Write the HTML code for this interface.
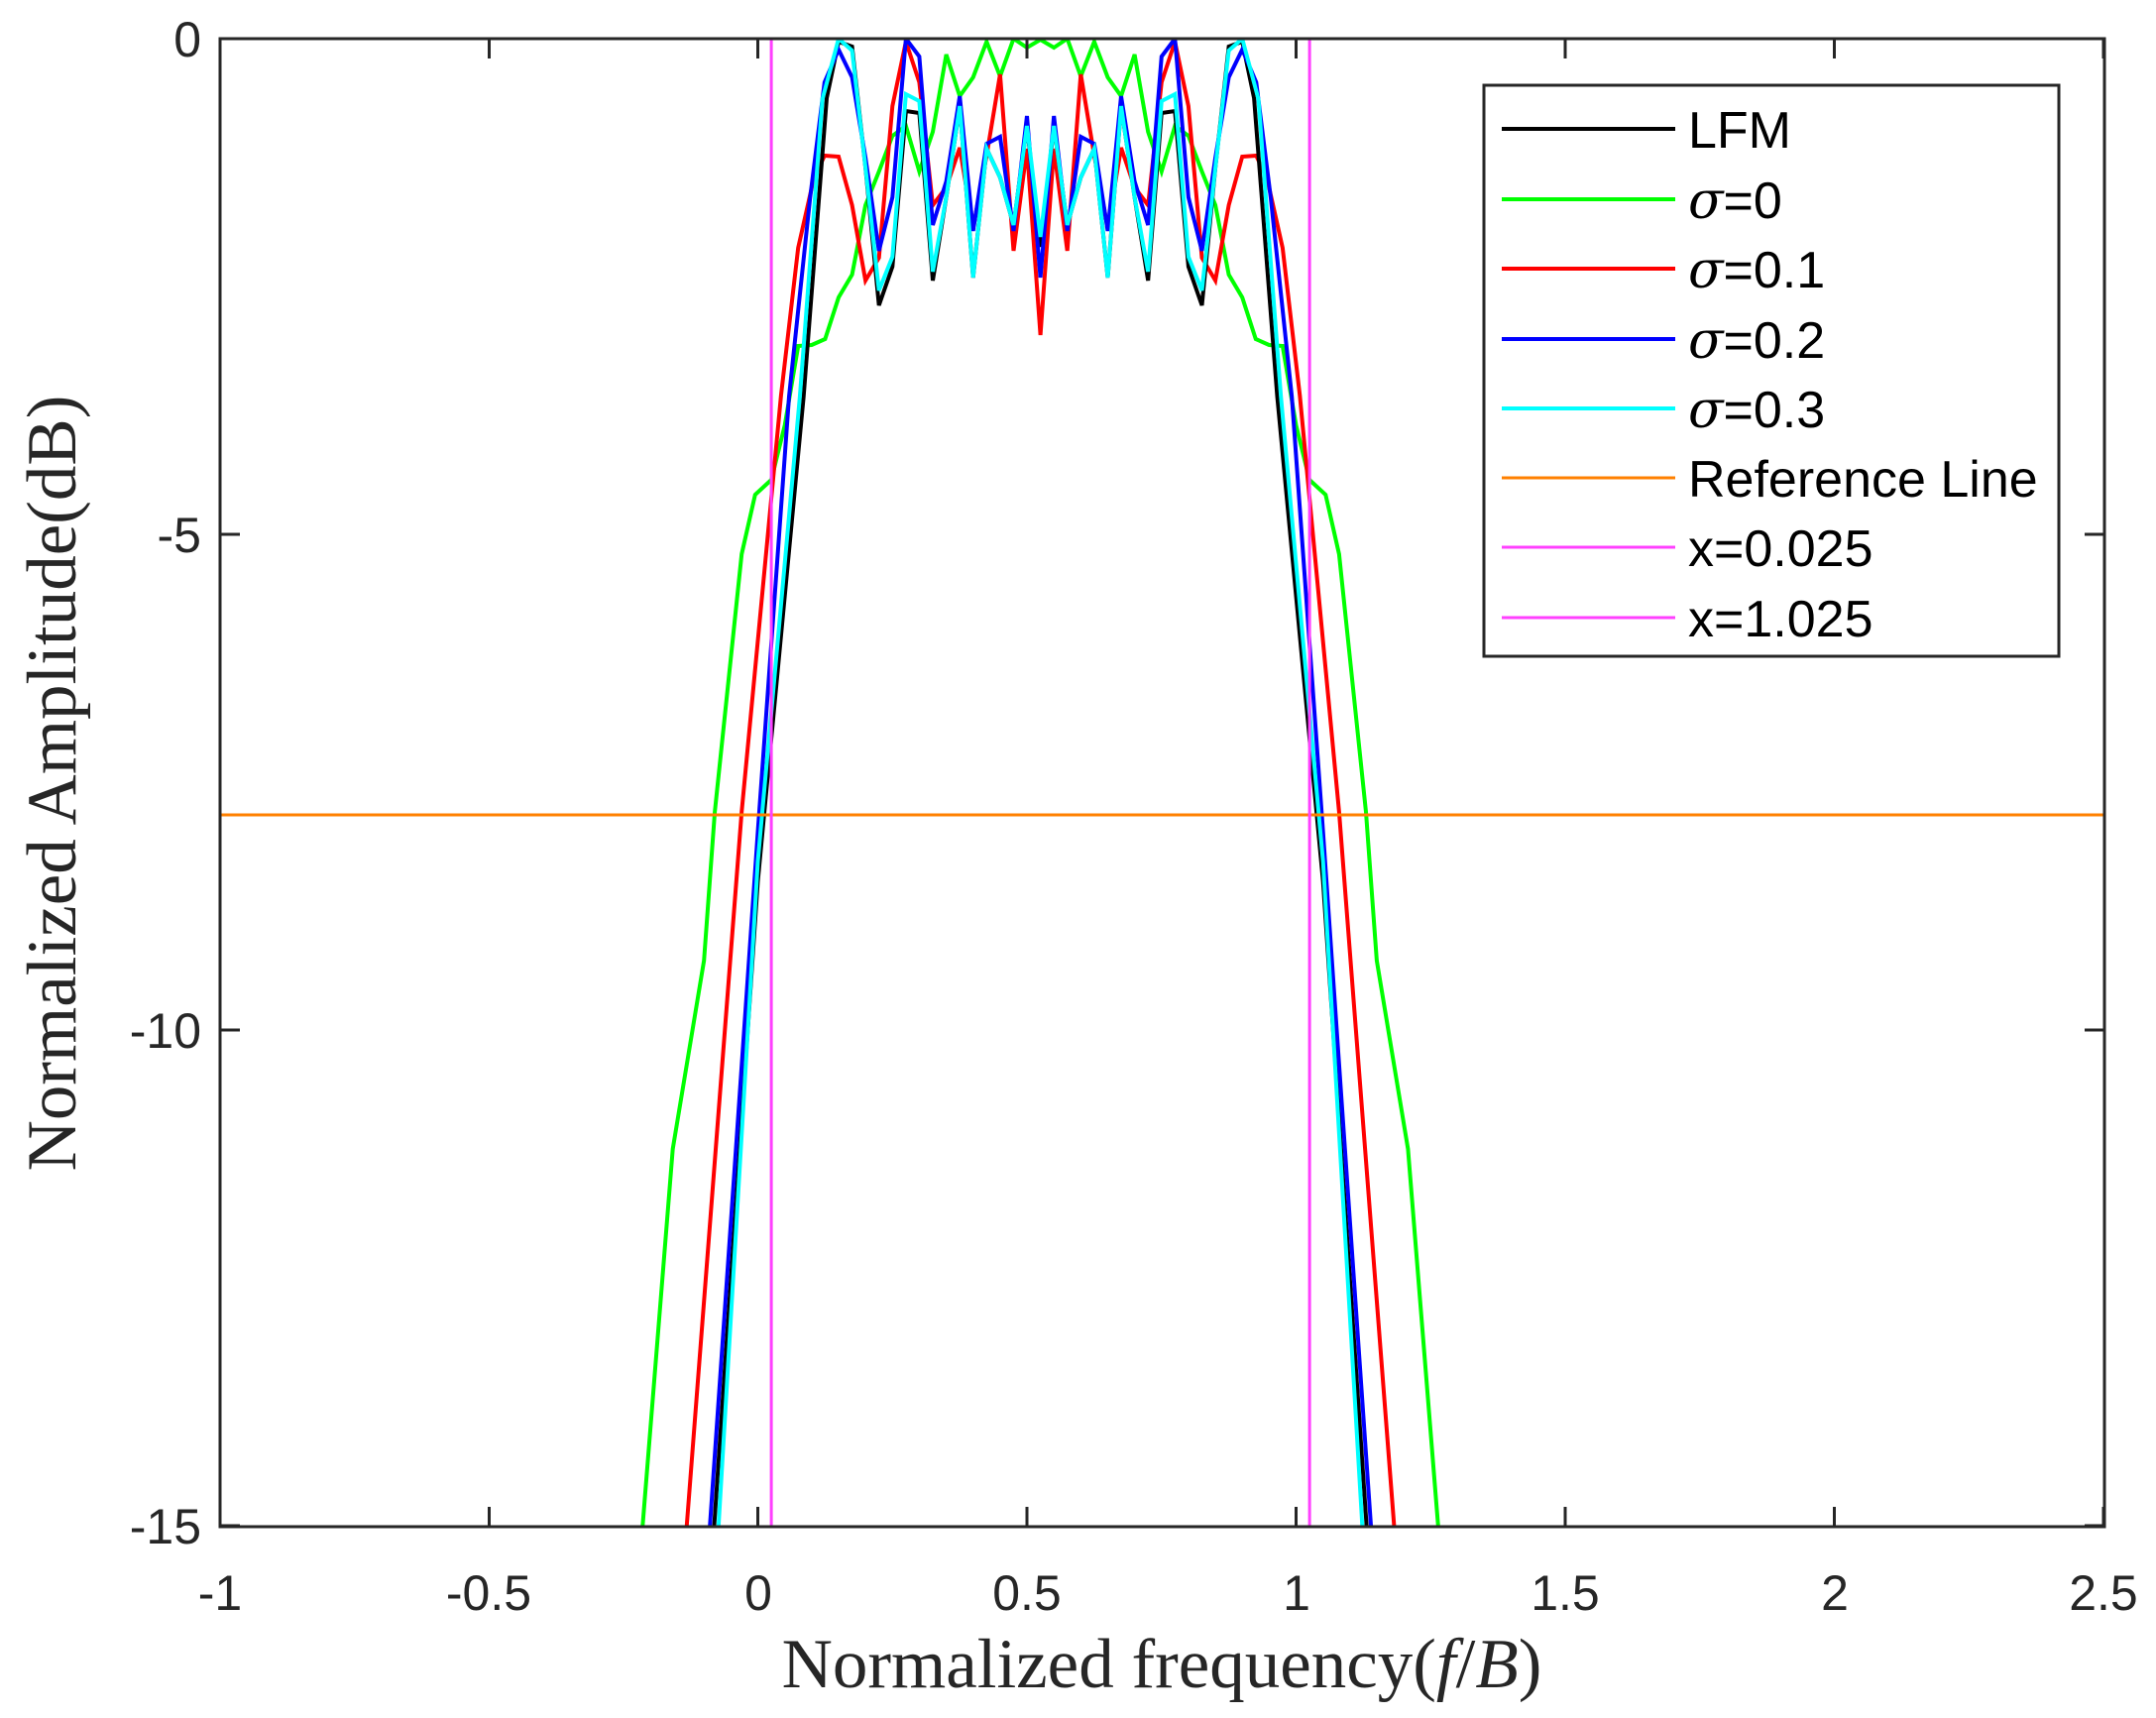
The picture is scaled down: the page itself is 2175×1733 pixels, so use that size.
<!DOCTYPE html>
<html><head><meta charset="utf-8"><style>
html,body{margin:0;padding:0;background:#fff;}
svg{display:block}
text{font-family:"Liberation Sans",sans-serif;}
.tk{font-size:50px;fill:#262626}
.lg{font-size:52px;fill:#000}
.ser{font-family:"Liberation Serif",serif;font-size:71px;fill:#262626}
</style></head><body>
<svg width="2175" height="1733" viewBox="0 0 2175 1733" xmlns="http://www.w3.org/2000/svg">
<defs><clipPath id="c"><rect x="222" y="39" width="1901" height="1501"/></clipPath></defs>
<rect x="0" y="0" width="2175" height="1733" fill="#fff"/>
<g clip-path="url(#c)" fill="none" stroke-width="4">
<polyline stroke="#00ff00" points="634.2,1739 648.3,1539 678.7,1159 710.2,969 721.1,819 748.2,559 761.8,499 778.1,484 791.7,429 805.2,349 818.8,348 832.4,342 846,300 859.6,277 873.1,207 886.7,173 900.3,137 913.9,127 927.4,173 941,133 954.6,55 968.2,97 981.7,78 995.3,42 1008.9,77 1022.5,39 1036,48 1049.6,40 1063.2,48 1076.7,39 1090.3,77 1103.9,42 1117.5,78 1131,97 1144.6,55 1158.2,133 1171.8,173 1185.3,127 1198.9,137 1212.5,173 1226.1,207 1239.6,277 1253.2,300 1266.8,342 1280.3,348 1293.9,349 1307.5,429 1321,484 1337.3,499 1350.9,559 1378,819 1388.9,969 1420.4,1159 1450.8,1539 1464.9,1739"/>
<polyline stroke="#ff0000" points="677.6,1739 692.8,1539 748.2,819 787.9,399 805.2,250 821,180 831.8,157 846,158 859.6,207 873.1,283 886.7,260 900.3,107 913.9,42 927.4,83 941,207 954.6,189 968.2,149 981.7,230 995.3,157 1008.9,75 1022.5,253 1036,150 1049.6,338 1063.2,150 1076.7,253 1090.3,75 1103.9,157 1117.5,230 1131,149 1144.6,189 1158.2,207 1171.8,83 1185.3,42 1198.9,107 1212.5,260 1226.1,283 1239.6,207 1253.2,158 1267.3,157 1278.2,180 1293.9,250 1311.3,399 1350.9,819 1406.4,1539 1421.6,1739"/>
<polyline stroke="#000000" points="704.8,1739 720.5,1539 764.5,889 810.7,400 834,99 846,42 859.6,47 873.1,169 886.7,308 900.3,269 913.9,112 927.4,114 941,283 954.6,199 968.2,107 981.7,280 995.3,150 1008.9,179 1022.5,227 1036,127 1049.6,249 1063.2,127 1076.7,227 1090.3,179 1103.9,150 1117.5,280 1131,107 1144.6,199 1158.2,283 1171.8,114 1185.3,112 1198.9,269 1212.5,308 1226.1,169 1239.6,47 1253.2,42 1265.1,99 1288.5,400 1334.7,889 1378.6,1539 1394.4,1739"/>
<polyline stroke="#0000ff" points="702.1,1739 716.2,1539 764.5,839 796,400 817.2,200 831.8,83 846,50 859.6,78 873.1,159 886.7,253 900.3,199 913.9,39 927.4,57 941,227 954.6,183 968.2,97 981.7,233 995.3,145 1008.9,138 1022.5,233 1036,117 1049.6,280 1063.2,117 1076.7,233 1090.3,138 1103.9,145 1117.5,233 1131,97 1144.6,183 1158.2,227 1171.8,57 1185.3,39 1198.9,199 1212.5,253 1226.1,159 1239.6,78 1253.2,50 1267.3,83 1282,200 1303.2,400 1334.7,839 1383,1539 1397.1,1739"/>
<polyline stroke="#00ffff" points="710.2,1739 724.9,1539 764.5,869 806.9,400 829.7,100 846,39 859.6,51 873.1,169 886.7,293 900.3,259 913.9,95 927.4,102 941,274 954.6,199 968.2,107 981.7,280 995.3,150 1008.9,179 1022.5,227 1036,127 1049.6,239 1063.2,127 1076.7,227 1090.3,179 1103.9,150 1117.5,280 1131,107 1144.6,199 1158.2,274 1171.8,102 1185.3,95 1198.9,259 1212.5,293 1226.1,169 1239.6,51 1253.2,39 1269.5,100 1292.2,400 1334.7,869 1374.3,1539 1388.9,1739"/>
<line x1="222" y1="822" x2="2123" y2="822" stroke="#ff8000" stroke-width="3"/>
<line x1="778.1" y1="39" x2="778.1" y2="1540" stroke="#ff40ff" stroke-width="3"/>
<line x1="1321.1" y1="39" x2="1321.1" y2="1540" stroke="#ff40ff" stroke-width="3"/>
</g>
<g stroke="#262626" stroke-width="3" fill="none">
<rect x="222" y="39" width="1901" height="1501"/>
<path d="M222 1540v-20M222 39v20M493.5 1540v-20M493.5 39v20M764.5 1540v-20M764.5 39v20M1036 1540v-20M1036 39v20M1307.5 1540v-20M1307.5 39v20M1579 1540v-20M1579 39v20M1850.5 1540v-20M1850.5 39v20M2122 1540v-20M2122 39v20M222 39h20M2123 39h-20M222 539h20M2123 539h-20M222 1039h20M2123 1039h-20M222 1539h20M2123 1539h-20"/>
</g>
<g class="tk" text-anchor="end">
<text x="203" y="57">0</text>
<text x="203" y="557">-5</text>
<text x="203" y="1057">-10</text>
<text x="203" y="1557">-15</text>
</g>
<g class="tk" text-anchor="middle">
<text x="222" y="1624">-1</text>
<text x="493" y="1624">-0.5</text>
<text x="765" y="1624">0</text>
<text x="1036" y="1624">0.5</text>
<text x="1308" y="1624">1</text>
<text x="1579" y="1624">1.5</text>
<text x="1851" y="1624">2</text>
<text x="2122" y="1624">2.5</text>
</g>
<text class="ser" x="1172" y="1702" text-anchor="middle">Normalized frequency(<tspan font-style="italic">f</tspan>/<tspan font-style="italic">B</tspan>)</text>
<text class="ser" transform="translate(76,790) rotate(-90)" text-anchor="middle">Normalized Amplitude(dB)</text>
<rect x="1497" y="86" width="580" height="576" fill="#fff" stroke="#262626" stroke-width="3"/>
<g stroke-width="4">
<line x1="1515" y1="130" x2="1690" y2="130" stroke="#000"/>
<line x1="1515" y1="201" x2="1690" y2="201" stroke="#00ff00"/>
<line x1="1515" y1="271" x2="1690" y2="271" stroke="#ff0000"/>
<line x1="1515" y1="342" x2="1690" y2="342" stroke="#0000ff"/>
<line x1="1515" y1="412" x2="1690" y2="412" stroke="#00ffff"/>
<line x1="1515" y1="482" x2="1690" y2="482" stroke="#ff8000" stroke-width="3"/>
<line x1="1515" y1="552" x2="1690" y2="552" stroke="#ff40ff" stroke-width="3"/>
<line x1="1515" y1="623" x2="1690" y2="623" stroke="#ff40ff" stroke-width="3"/>
</g>
<g class="lg">
<text x="1703" y="149">LFM</text>
<text x="1703" y="220"><tspan font-style="italic" font-family="DejaVu Serif">σ</tspan>=0</text>
<text x="1703" y="290"><tspan font-style="italic" font-family="DejaVu Serif">σ</tspan>=0.1</text>
<text x="1703" y="361"><tspan font-style="italic" font-family="DejaVu Serif">σ</tspan>=0.2</text>
<text x="1703" y="431"><tspan font-style="italic" font-family="DejaVu Serif">σ</tspan>=0.3</text>
<text x="1703" y="501">Reference Line</text>
<text x="1703" y="571">x=0.025</text>
<text x="1703" y="642">x=1.025</text>
</g>
</svg>
</body></html>
